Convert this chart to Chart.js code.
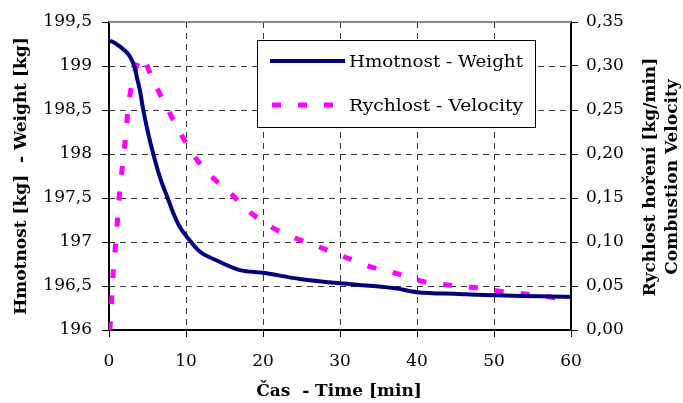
<!DOCTYPE html>
<html>
<head>
<meta charset="utf-8">
<script src="https://cdn.jsdelivr.net/npm/chart.js@4"></script>
<style>
  html, body { margin: 0; padding: 0; background: #fff; }
  #wrap { width: 683px; height: 403px; position: relative; }
</style>
</head>
<body>
<div id="wrap"><canvas id="graf"></canvas></div>
<script>
// ---- data ----
const casHmotnost = [0, 0.13, 1.43, 2.7, 3.38, 3.6, 4.0, 4.45, 5.1, 5.75, 6.6, 7.7, 8.35, 9.2, 10.1, 11.8, 13.5, 17, 20, 24.8, 30, 34.3, 37.4, 40, 45.5, 48, 60];
const hmotnost    = [199.28, 199.28, 199.22, 199.11, 198.97, 198.88, 198.73, 198.5, 198.23, 198.0, 197.74, 197.48, 197.33, 197.17, 197.06, 196.89, 196.81, 196.68, 196.65, 196.58, 196.53, 196.5, 196.47, 196.43, 196.41, 196.4, 196.375];

const casRychlost = [0, 0.13, 0.35, 0.56, 0.87, 1.13, 1.4, 1.8, 2.2, 2.5, 3.1, 4.2, 5.7, 7.5, 9.2, 10.8, 12.9, 15.7, 18.3, 21.1, 24.3, 27.4, 30.6, 33.9, 37.4, 40.8, 44.2, 47.7, 51.7, 55, 58.6, 60];
const rychlost    = [0, 0.003, 0.036, 0.066, 0.099, 0.128, 0.159, 0.19, 0.224, 0.253, 0.284, 0.31, 0.284, 0.253, 0.225, 0.201, 0.178, 0.156, 0.134, 0.117, 0.104, 0.094, 0.083, 0.072, 0.064, 0.055, 0.051, 0.048, 0.043, 0.04, 0.036, 0.035];

const legendaTexty = ["Hmotnost - Weight", "Rychlost - Velocity"];
const titulX = "Čas  - Time [min]";
const titulY1 = "Hmotnost [kg]  - Weight [kg]";
const titulY2 = ["Rychlost hoření [kg/min]", "Combustion Velocity"];

const pismo = "'DejaVu Serif', serif";

// čárkovaná mřížka (podle ticků os)
const mrizka = {
  id: "mrizka",
  beforeDatasetsDraw(chart) {
    const ctx = chart.ctx;
    const a = chart.chartArea;
    const sx = chart.scales.x, sy = chart.scales.y;
    ctx.save();
    ctx.strokeStyle = "#333";
    ctx.lineWidth = 1;
    ctx.setLineDash([6, 5]);
    sx.ticks.forEach(t => {
      if (t.value <= sx.min || t.value >= sx.max) return;
      const px = Math.round(sx.getPixelForValue(t.value)) + 0.5;
      ctx.beginPath();
      ctx.moveTo(px, a.top);
      ctx.lineTo(px, a.bottom);
      ctx.stroke();
    });
    sy.ticks.forEach(t => {
      if (t.value <= sy.min || t.value >= sy.max) return;
      const py = Math.round(sy.getPixelForValue(t.value)) + 0.5;
      ctx.beginPath();
      ctx.moveTo(a.left, py);
      ctx.lineTo(a.right, py);
      ctx.stroke();
    });
    ctx.restore();
  }
};

// legenda uvnitř grafu + titulky os (pravý čte zdola nahoru)
const popisky = {
  id: "popisky",
  afterDraw(chart) {
    const ctx = chart.ctx;
    const a = chart.chartArea;
    ctx.save();
    // horní šedý okraj
    ctx.strokeStyle = "#8c8c8c";
    ctx.lineWidth = 2;
    ctx.beginPath();
    ctx.moveTo(a.left, a.top);
    ctx.lineTo(a.right, a.top);
    ctx.stroke();

    // legenda
    const bx = 257, by = 40, bw = 278, bh = 87;
    ctx.fillStyle = "#fff";
    ctx.fillRect(bx, by, bw, bh);
    ctx.strokeStyle = "#000";
    ctx.lineWidth = 1;
    ctx.strokeRect(bx + 0.5, by + 0.5, bw, bh);
    const ds = chart.data.datasets;
    const radky = [61, 105];
    const sirky = [174, 174];
    ds.forEach((d, i) => {
      ctx.strokeStyle = d.borderColor;
      ctx.lineWidth = d.borderWidth;
      ctx.setLineDash(d.borderDash || []);
      ctx.lineCap = "butt";
      ctx.beginPath();
      ctx.moveTo(i === 0 ? 270 : 272, radky[i]);
      ctx.lineTo(i === 0 ? 345 : 337, radky[i]);
      ctx.stroke();
      ctx.setLineDash([]);
      ctx.fillStyle = "#000";
      ctx.font = "17px " + pismo;
      ctx.textAlign = "left";
      ctx.textBaseline = "middle";
      const w = ctx.measureText(legendaTexty[i]).width;
      ctx.save();
      ctx.translate(349, radky[i] + 2);
      ctx.scale(Math.min(1.15, sirky[i] / w), 1);
      ctx.fillText(legendaTexty[i], 0, 0);
      ctx.restore();
    });

    // titulky os
    ctx.fillStyle = "#000";
    ctx.font = "bold 17px " + pismo;
    ctx.textAlign = "center";
    ctx.textBaseline = "middle";
    ctx.fillText(titulX, 339, 392);

    ctx.save();
    ctx.translate(22, 176);
    ctx.rotate(-Math.PI / 2);
    ctx.fillText(titulY1, 0, 0);
    ctx.restore();

    ctx.save();
    ctx.translate(651, 177);
    ctx.rotate(-Math.PI / 2);
    ctx.fillText(titulY2[0], 0, 0);
    ctx.fillText(titulY2[1], 0, 22);
    ctx.restore();
    ctx.restore();
  }
};

const carka = v => String(Math.round(v * 10) / 10).replace(".", ",");

new Chart(document.getElementById("graf").getContext("2d"), {
  type: "line",
  data: {
    datasets: [
      {
        label: legendaTexty[0],
        data: casHmotnost.map((t, i) => ({ x: t, y: hmotnost[i] })),
        yAxisID: "y",
        borderColor: "#000080",
        borderWidth: 4,
        pointRadius: 0,
        cubicInterpolationMode: "monotone",
        fill: false,
      },
      {
        label: legendaTexty[1],
        data: casRychlost.map((t, i) => ({ x: t, y: rychlost[i] })),
        yAxisID: "y2",
        borderColor: "#ff00ff",
        borderWidth: 5,
        borderDash: [9, 17],
        borderCapStyle: "butt",
        pointRadius: 0,
        cubicInterpolationMode: "monotone",
        fill: false,
      },
    ],
  },
  options: {
    responsive: true,
    maintainAspectRatio: false,
    animation: false,
    layout: { padding: { top: 22, left: 0, right: 0, bottom: 0 } },
    plugins: { legend: { display: false }, tooltip: { enabled: false } },
    scales: {
      x: {
        type: "linear",
        min: 0, max: 60,
        afterFit: s => { s.height = 73; },
        ticks: { stepSize: 10, color: "#000", font: { family: pismo, size: 17 }, padding: 14 },
        grid: { drawOnChartArea: false, color: "#000", tickColor: "#000", tickLength: 7 },
        border: { color: "#000", width: 2 },
      },
      y: {
        position: "left",
        min: 196, max: 199.5,
        afterFit: s => { s.width = 109; },
        ticks: { stepSize: 0.5, color: "#000", font: { family: pismo, size: 17 }, padding: 10, callback: v => carka(v) },
        grid: { drawOnChartArea: false, color: "#000", tickColor: "#000", tickLength: 7 },
        border: { color: "#000", width: 2 },
      },
      y2: {
        position: "right",
        min: 0, max: 0.35,
        afterFit: s => { s.width = 112; },
        ticks: { stepSize: 0.05, color: "#000", font: { family: pismo, size: 17 }, padding: 8, callback: v => v.toFixed(2).replace(".", ",") },
        grid: { drawOnChartArea: false, color: "#000", tickLength: 7 },
        border: { color: "#000", width: 2 },
      },
    },
  },
  plugins: [mrizka, popisky],
});
</script>
</body>
</html>
